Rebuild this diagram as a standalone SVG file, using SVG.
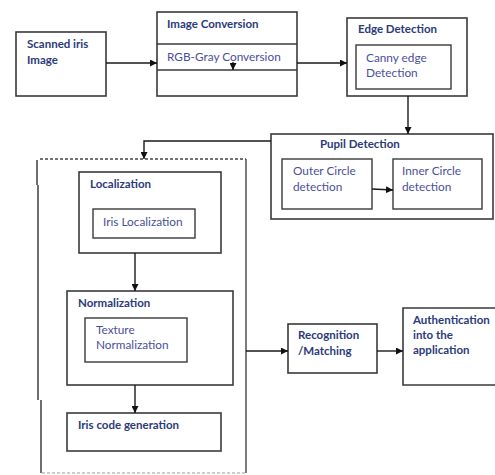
<svg xmlns="http://www.w3.org/2000/svg" width="495" height="475" viewBox="0 0 495 475">
<defs>
<marker id="ah" viewBox="0 0 10 10" refX="10" refY="5" markerWidth="7" markerHeight="7" markerUnits="userSpaceOnUse" orient="auto">
<path d="M0,0 L10,5 L0,10 z" fill="#111"/>
</marker>
<style>
.box{fill:#fff;stroke:#3a3a3a;stroke-width:1.6}
.in{fill:none;stroke:#3a3a3a;stroke-width:1.4}
.t{font-family:Lato,"Liberation Sans",sans-serif;font-size:11.5px;font-weight:bold;fill:#2b3a7a}
.n{font-family:Lato,"Liberation Sans",sans-serif;font-size:11.8px;fill:#4a4f9a}
.c{fill:none;stroke:#1a1a1a;stroke-width:1.4}
</style>
</defs>
<rect width="495" height="475" fill="#fff"/>
<g id="container">
<path d="M40,159 L246,159" fill="none" stroke="#444" stroke-width="1.3" stroke-dasharray="3,2"/>
<path d="M42,473 L246,473" fill="none" stroke="#999" stroke-width="1" stroke-dasharray="3,2"/>
<path d="M37,160 L37,185 M38,185 L38,400 M41,400 L41,473" fill="none" stroke="#333" stroke-width="1.4"/>
<path d="M246,159 L246,473" fill="none" stroke="#444" stroke-width="1.4"/>
</g>
<g id="scanned">
<rect class="box" x="16" y="32" width="90" height="64"/>
<text class="t" x="27" y="48">Scanned iris</text>
<text class="t" x="27" y="64">Image</text>
</g>
<g id="imageconv">
<rect class="box" x="157" y="12" width="140" height="84"/>
<line class="in" x1="157" y1="44" x2="297" y2="44"/>
<line class="in" x1="157" y1="70" x2="297" y2="70"/>
<text class="t" x="167" y="28">Image Conversion</text>
<text class="n" x="167" y="61">RGB-Gray Conversion</text>
</g>
<g id="edge">
<rect class="box" x="347" y="18" width="120" height="78"/>
<text class="t" x="358" y="33">Edge Detection</text>
<rect class="in" x="356" y="45" width="95" height="44"/>
<text class="n" x="366" y="62">Canny edge</text>
<text class="n" x="366" y="77">Detection</text>
</g>
<g id="pupil">
<rect class="box" x="271" y="134" width="222" height="85"/>
<text class="t" x="320" y="148">Pupil Detection</text>
<rect class="in" x="282" y="159" width="90" height="50"/>
<text class="n" x="293" y="175">Outer Circle</text>
<text class="n" x="293" y="191">detection</text>
<rect class="in" x="393" y="159" width="89" height="50"/>
<text class="n" x="402" y="175">Inner Circle</text>
<text class="n" x="402" y="191">detection</text>
</g>
<g id="localization">
<rect class="box" x="79" y="172" width="142" height="81"/>
<text class="t" x="90" y="188">Localization</text>
<rect class="in" x="93" y="209" width="102" height="29"/>
<text class="n" x="103" y="226">Iris Localization</text>
</g>
<g id="normalization">
<rect class="box" x="67" y="291" width="166" height="94"/>
<text class="t" x="78" y="307">Normalization</text>
<rect class="in" x="85" y="318" width="102" height="44"/>
<text class="n" x="96" y="334">Texture</text>
<text class="n" x="96" y="349">Normalization</text>
</g>
<g id="iriscode">
<rect class="box" x="67" y="413" width="154" height="38"/>
<text class="t" x="78" y="429">Iris code generation</text>
</g>
<g id="recognition">
<rect class="box" x="288" y="324" width="89" height="49"/>
<text class="t" x="298" y="339">Recognition</text>
<text class="t" x="298" y="355">/Matching</text>
</g>
<g id="auth">
<path d="M497,308 L403,308 L403,385 L497,385" class="box"/>
<text class="t" x="413" y="324">Authentication</text>
<text class="t" x="413" y="339">into the</text>
<text class="t" x="413" y="354">application</text>
</g>
<g id="connectors">
<line class="c" x1="106" y1="63" x2="157" y2="63" marker-end="url(#ah)"/>
<line class="c" x1="233" y1="62" x2="233" y2="70" marker-end="url(#ah)"/>
<line class="c" x1="297" y1="63" x2="347" y2="63" marker-end="url(#ah)"/>
<line class="c" x1="408" y1="96" x2="408" y2="134" marker-end="url(#ah)"/>
<polyline class="c" points="271,141 144,141 144,159" marker-end="url(#ah)"/>
<line class="c" x1="372" y1="189" x2="393" y2="190" marker-end="url(#ah)"/>
<line class="c" x1="135" y1="253" x2="135" y2="291" marker-end="url(#ah)"/>
<line class="c" x1="135" y1="385" x2="135" y2="413" marker-end="url(#ah)"/>
<line class="c" x1="246" y1="351" x2="288" y2="351" marker-end="url(#ah)"/>
<line class="c" x1="377" y1="351" x2="403" y2="351" marker-end="url(#ah)"/>
</g>
</svg>
